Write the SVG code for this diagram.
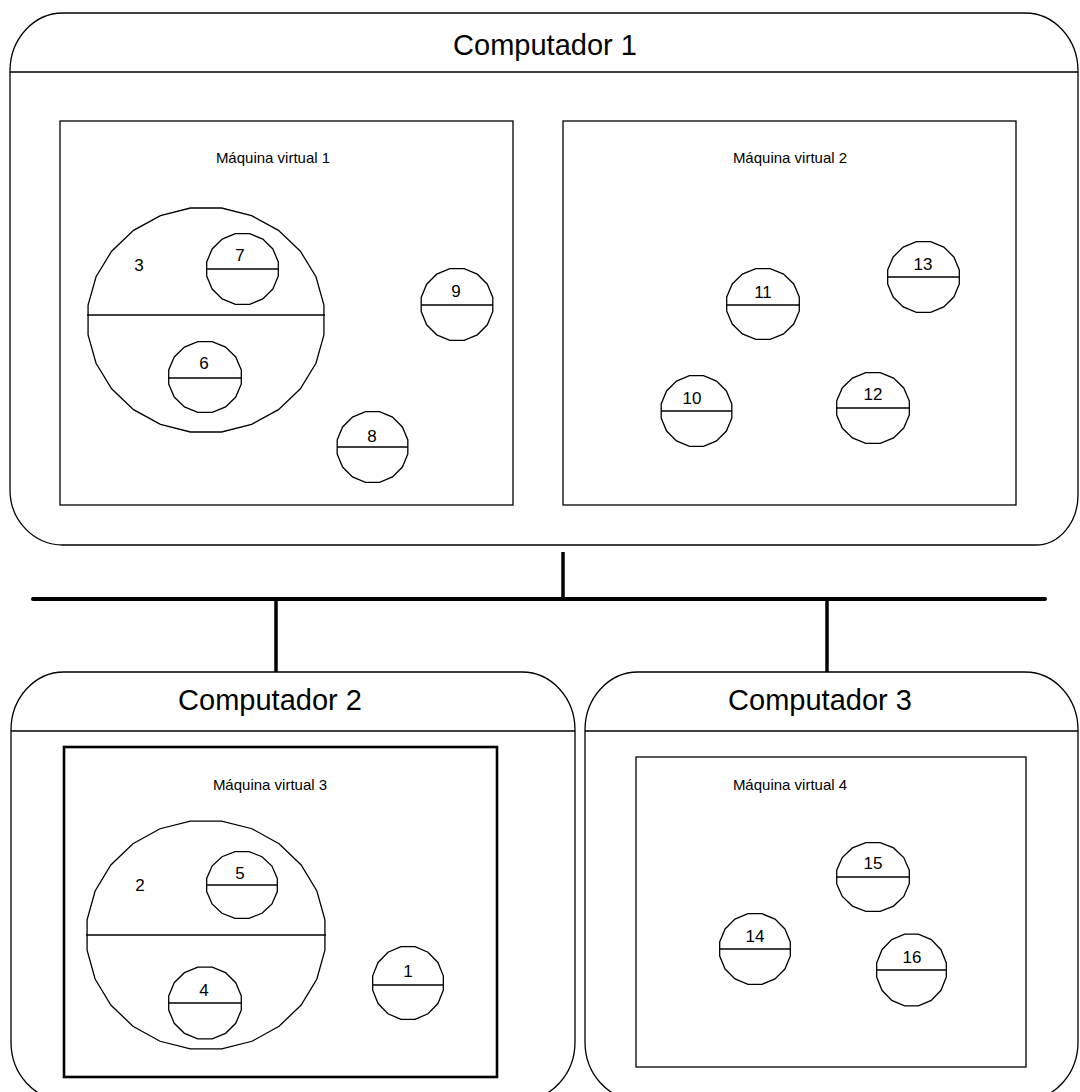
<svg xmlns="http://www.w3.org/2000/svg" xmlns:xlink="http://www.w3.org/1999/xlink" width="1080" height="1092" viewBox="0 0 1080 1092">
  <style>
    .box { fill: none; stroke: #000; stroke-width: 1.3; }
    .vm { fill: #fff; stroke: #000; stroke-width: 1.3; }
    .vm-bold { fill: #fff; stroke: #000; stroke-width: 2.6; }
    .split { stroke: #000; stroke-width: 1.3; }
    .ring { fill: none; stroke: #000; stroke-width: 1.3; }
    .bus { stroke: #000; stroke-width: 4; stroke-linecap: round; }
    .drop { stroke: #000; stroke-width: 3.5; }
    .title { font-family: "Liberation Sans", Arial, sans-serif; font-size: 29px; fill: #000; text-anchor: middle; }
    .vmlabel { font-family: "Liberation Sans", Arial, sans-serif; font-size: 15px; fill: #000; text-anchor: middle; }
    .num { font-family: "Liberation Sans", Arial, sans-serif; font-size: 17px; fill: #000; text-anchor: middle; }
  </style>
  <defs>
    <!-- unit 16-gon for the small process circles -->
    <polygon id="ring" vector-effect="non-scaling-stroke" points="0.981,0.195 0.831,0.556 0.556,0.831 0.195,0.981 -0.195,0.981 -0.556,0.831 -0.831,0.556 -0.981,0.195 -0.981,-0.195 -0.831,-0.556 -0.556,-0.831 -0.195,-0.981 0.195,-0.981 0.556,-0.831 0.831,-0.556 0.981,-0.195"/>
    <!-- unit 24-gon for the large process circles -->
    <polygon id="bigring" vector-effect="non-scaling-stroke" points="0.991,0.131 0.924,0.383 0.793,0.609 0.609,0.793 0.383,0.924 0.131,0.991 -0.131,0.991 -0.383,0.924 -0.609,0.793 -0.793,0.609 -0.924,0.383 -0.991,0.131 -0.991,-0.131 -0.924,-0.383 -0.793,-0.609 -0.609,-0.793 -0.383,-0.924 -0.131,-0.991 0.131,-0.991 0.383,-0.924 0.609,-0.793 0.793,-0.609 0.924,-0.383 0.991,-0.131"/>
  </defs>
  <rect width="1080" height="1092" fill="#fff"/>

  <!-- network bus and drops -->
  <g id="connectors">
    <line class="bus" x1="33" y1="599" x2="1045" y2="599"/>
    <line class="drop" x1="563" y1="552" x2="563" y2="599"/>
    <line class="drop" x1="276" y1="599" x2="276" y2="672"/>
    <line class="drop" x1="827" y1="599" x2="827" y2="672"/>
  </g>

  <!-- Computador 1 -->
  <g id="computador1">
    <path class="box" d="M63,13 H1025 A53,58 0 0 1 1078,71 V495 A42,50 0 0 1 1036,545 H63 A53,55 0 0 1 10,490 V71 A53,58 0 0 1 63,13 Z"/>
    <line class="split" x1="10" y1="72" x2="1078" y2="72"/>
    <text class="title" x="545" y="55">Computador 1</text>
  </g>

  <g id="vm1">
    <rect class="vm" x="60" y="121" width="453" height="384"/>
    <text class="vmlabel" x="273" y="163">Máquina virtual 1</text>
  </g>
  <g id="p3">
    <use href="#bigring" class="ring" transform="translate(206,320) scale(119,113)"/>
    <line class="split" x1="87" y1="315" x2="325" y2="315"/>
    <text class="num" x="139" y="271">3</text>
  </g>
  <g id="p7">
    <use href="#ring" class="ring" transform="translate(242.5,269) scale(36.5,36)"/>
    <line class="split" x1="206" y1="269" x2="279" y2="269"/>
    <text class="num" x="240" y="261">7</text>
  </g>
  <g id="p6">
    <use href="#ring" class="ring" transform="translate(205,377) scale(37,36)"/>
    <line class="split" x1="168" y1="378" x2="242" y2="378"/>
    <text class="num" x="204" y="369">6</text>
  </g>
  <g id="p9">
    <use href="#ring" class="ring" transform="translate(457,304.5) scale(36.5,36.5)"/>
    <line class="split" x1="421" y1="305" x2="493" y2="305"/>
    <text class="num" x="456" y="297">9</text>
  </g>
  <g id="p8">
    <use href="#ring" class="ring" transform="translate(372.5,447) scale(36,36)"/>
    <line class="split" x1="337" y1="447" x2="408" y2="447"/>
    <text class="num" x="372" y="442">8</text>
  </g>

  <g id="vm2">
    <rect class="vm" x="563" y="121" width="453" height="384"/>
    <text class="vmlabel" x="790" y="163">Máquina virtual 2</text>
  </g>
  <g id="p11">
    <use href="#ring" class="ring" transform="translate(763,304) scale(37,36)"/>
    <line class="split" x1="726" y1="305" x2="800" y2="305"/>
    <text class="num" x="763" y="298">11</text>
  </g>
  <g id="p13">
    <use href="#ring" class="ring" transform="translate(923.5,277) scale(36.5,36)"/>
    <line class="split" x1="887" y1="277" x2="960" y2="277"/>
    <text class="num" x="923" y="270">13</text>
  </g>
  <g id="p10">
    <use href="#ring" class="ring" transform="translate(696.5,411) scale(36,36)"/>
    <line class="split" x1="661" y1="411" x2="732" y2="411"/>
    <text class="num" x="692" y="404">10</text>
  </g>
  <g id="p12">
    <use href="#ring" class="ring" transform="translate(873,408) scale(37,36)"/>
    <line class="split" x1="836" y1="408" x2="910" y2="408"/>
    <text class="num" x="873" y="400">12</text>
  </g>

  <!-- Computador 2 -->
  <g id="computador2">
    <path class="box" d="M64,672 H522 A53,58 0 0 1 575,730 V1042 A53,58 0 0 1 522,1100 H64 A53,58 0 0 1 11,1042 V730 A53,58 0 0 1 64,672 Z"/>
    <line class="split" x1="11" y1="731" x2="575" y2="731"/>
    <text class="title" x="270" y="710">Computador 2</text>
  </g>
  <g id="vm3">
    <rect class="vm-bold" x="64" y="747" width="433" height="330"/>
    <text class="vmlabel" x="270" y="790">Máquina virtual 3</text>
  </g>
  <g id="p2">
    <use href="#bigring" class="ring" transform="translate(206,935) scale(120,115)"/>
    <line class="split" x1="86" y1="935" x2="326" y2="935"/>
    <text class="num" x="140" y="891">2</text>
  </g>
  <g id="p5">
    <use href="#ring" class="ring" transform="translate(242,885) scale(36,34)"/>
    <line class="split" x1="206" y1="885" x2="278" y2="885"/>
    <text class="num" x="240" y="879">5</text>
  </g>
  <g id="p4">
    <use href="#ring" class="ring" transform="translate(205,1003) scale(37,36.5)"/>
    <line class="split" x1="168" y1="1003" x2="242" y2="1003"/>
    <text class="num" x="204" y="996">4</text>
  </g>
  <g id="p1">
    <use href="#ring" class="ring" transform="translate(408,983) scale(36,37)"/>
    <line class="split" x1="372" y1="985" x2="444" y2="985"/>
    <text class="num" x="408" y="977">1</text>
  </g>

  <!-- Computador 3 -->
  <g id="computador3">
    <path class="box" d="M638,672 H1025 A53,58 0 0 1 1078,730 V1042 A53,58 0 0 1 1025,1100 H638 A53,58 0 0 1 585,1042 V730 A53,58 0 0 1 638,672 Z"/>
    <line class="split" x1="585" y1="731" x2="1078" y2="731"/>
    <text class="title" x="820" y="710">Computador 3</text>
  </g>
  <g id="vm4">
    <rect class="vm" x="636" y="757" width="390" height="310"/>
    <text class="vmlabel" x="790" y="790">Máquina virtual 4</text>
  </g>
  <g id="p15">
    <use href="#ring" class="ring" transform="translate(873,877) scale(37,35)"/>
    <line class="split" x1="836" y1="877" x2="910" y2="877"/>
    <text class="num" x="873" y="869">15</text>
  </g>
  <g id="p14">
    <use href="#ring" class="ring" transform="translate(755,949) scale(36,36)"/>
    <line class="split" x1="719" y1="949" x2="791" y2="949"/>
    <text class="num" x="755" y="942">14</text>
  </g>
  <g id="p16">
    <use href="#ring" class="ring" transform="translate(911.5,970) scale(35.5,36.5)"/>
    <line class="split" x1="876" y1="970" x2="947" y2="970"/>
    <text class="num" x="912" y="963">16</text>
  </g>
</svg>
